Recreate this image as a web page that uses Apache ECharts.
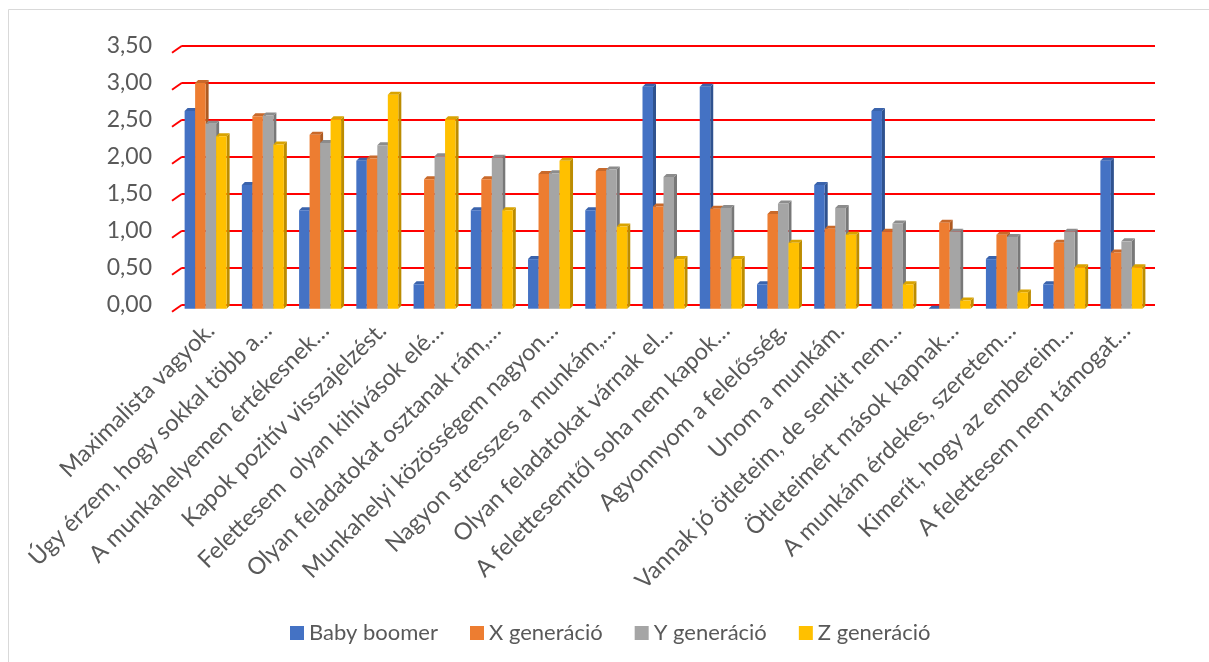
<!DOCTYPE html>
<html>
<head>
<meta charset="utf-8">
<script src="https://cdn.jsdelivr.net/npm/echarts@6/dist/echarts.min.js"></script>
<style>
  html, body { margin: 0; padding: 0; background: #ffffff; }
  #chart { width: 1209px; height: 662px; }
</style>
</head>
<body>
<div id="chart"></div>
<script>
// Survey statements (category axis)
const categories = [
  'Maximalista vagyok.',
  'Úgy érzem, hogy sokkal több a…',
  'A munkahelyemen értékesnek…',
  'Kapok pozitív visszajelzést.',
  'Felettesem  olyan kihívások elé…',
  'Olyan feladatokat osztanak rám,…',
  'Munkahelyi közösségem nagyon…',
  'Nagyon stresszes a munkám,…',
  'Olyan feladatokat várnak el…',
  'A felettesemtől soha nem kapok…',
  'Agyonnyom a felelősség.',
  'Unom a munkám.',
  'Vannak jó ötleteim, de senkit nem…',
  'Ötleteimért mások kapnak…',
  'A munkám érdekes, szeretem…',
  'Kimerít, hogy az embereim…',
  'A felettesem nem támogat…'
];

// Average scores by generation
const babyBoomer = [2.67, 1.67, 1.33, 2.00, 0.33, 1.33, 0.67, 1.33, 3.00, 3.00, 0.33, 1.67, 2.67, 0.00, 0.67, 0.33, 2.00];
const genX       = [3.05, 2.60, 2.35, 2.03, 1.75, 1.75, 1.82, 1.86, 1.38, 1.35, 1.28, 1.08, 1.04, 1.16, 1.00, 0.89, 0.76];
const genY       = [2.50, 2.61, 2.24, 2.21, 2.06, 2.04, 1.83, 1.88, 1.78, 1.36, 1.42, 1.36, 1.15, 1.04, 0.97, 1.04, 0.91];
const genZ       = [2.33, 2.22, 2.56, 2.89, 2.56, 1.33, 2.00, 1.11, 0.67, 0.67, 0.89, 1.00, 0.33, 0.11, 0.22, 0.56, 0.56];

const seriesNames = ['Baby boomer', 'X generáció', 'Y generáció', 'Z generáció'];
const yTicks = [0, 0.5, 1, 1.5, 2, 2.5, 3, 3.5];

// front / side / top shades for the pseudo-3D columns
const palette = [
  { front: '#4472C4', side: '#2F528F', top: '#3A63AC' },
  { front: '#ED7D31', side: '#AE5A21', top: '#C9692A' },
  { front: '#A5A5A5', side: '#787878', top: '#8C8C8C' },
  { front: '#FFC000', side: '#BC8C00', top: '#D9A300' }
];

const FONT = 'Lato, "Open Sans", sans-serif';
const BAR_W = 10.5;      // front face width of one column
const DEPTH_X = 3;       // side face depth, horizontal
const DEPTH_Y = 3;       // side face depth, vertical
const FRONT_DX = -5;     // columns stand in front of the back wall
const FRONT_DY = 4;

function columnSeries(idx, values) {
  const c = palette[idx];
  return {
    name: seriesNames[idx],
    type: 'custom',
    itemStyle: { color: c.front },
    data: values.map((v, i) => [i, v]),
    renderItem: function (params, api) {
      const ci = api.value(0);
      const v = api.value(1);
      const cx = api.coord([ci, 0])[0];
      const groupW = BAR_W * 4;
      const x0 = cx - groupW / 2 + FRONT_DX + idx * BAR_W;
      const x1 = x0 + BAR_W;
      const yTop = api.coord([ci, v])[1] + FRONT_DY;
      const yBase = api.coord([ci, 0])[1] + FRONT_DY;
      return {
        type: 'group',
        children: [
          {
            type: 'polygon',
            shape: { points: [[x1, yTop], [x1 + DEPTH_X, yTop - DEPTH_Y], [x1 + DEPTH_X, yBase - DEPTH_Y], [x1, yBase]] },
            style: { fill: c.side }
          },
          {
            type: 'polygon',
            shape: { points: [[x0, yTop], [x1, yTop], [x1 + DEPTH_X, yTop - DEPTH_Y], [x0 + DEPTH_X, yTop - DEPTH_Y]] },
            style: { fill: c.top }
          },
          {
            type: 'rect',
            shape: { x: x0, y: yTop, width: BAR_W, height: Math.max(yBase - yTop, 0) },
            style: { fill: c.front }
          }
        ]
      };
    }
  };
}

// short slanted stubs at the left end of every gridline (wall/floor edge)
const wallEdgeSeries = {
  type: 'custom',
  silent: true,
  legendHoverLink: false,
  data: yTicks.map(t => [0, t]),
  renderItem: function (params, api) {
    const y = api.coord([0, api.value(1)])[1];
    const x = params.coordSys.x;
    return {
      type: 'line',
      shape: { x1: x - 10, y1: y + 7, x2: x, y2: y },
      style: { stroke: '#FF0000', lineWidth: 2 }
    };
  },
  z: 1
};

const chart = echarts.init(document.getElementById('chart'));
chart.setOption({
  backgroundColor: '#ffffff',
  animation: false,
  graphic: [{
    type: 'rect',
    shape: { x: 8.5, y: 9.5, width: 1400, height: 800 },
    style: { fill: 'none', stroke: '#D9D9D9', lineWidth: 1 },
    z: -10
  }],
  grid: { left: 182, right: 54, top: 45.7, bottom: 357.3, containLabel: false },
  legend: {
    data: seriesNames,
    left: 285,
    top: 617,
    icon: 'rect',
    itemWidth: 14,
    itemHeight: 14,
    itemGap: 32,
    textStyle: { fontFamily: FONT, fontSize: 22, color: '#595959' }
  },
  xAxis: {
    type: 'category',
    data: categories,
    axisLine: { show: false },
    axisTick: { show: false },
    axisLabel: {
      interval: 0,
      rotate: 45,
      margin: 22,
      fontFamily: FONT,
      fontSize: 23.5,
      color: '#595959'
    }
  },
  yAxis: {
    type: 'value',
    min: 0,
    max: 3.5,
    interval: 0.5,
    axisLine: { show: false },
    axisTick: { show: false },
    splitLine: { lineStyle: { color: '#FF0000', width: 2 } },
    axisLabel: {
      margin: 30,
      fontFamily: FONT,
      fontSize: 23,
      color: '#595959',
      padding: [18, 0, 0, 0],
      formatter: v => v.toFixed(2).replace('.', ',')
    }
  },
  series: [
    wallEdgeSeries,
    columnSeries(0, babyBoomer),
    columnSeries(1, genX),
    columnSeries(2, genY),
    columnSeries(3, genZ)
  ]
});
</script>
</body>
</html>
